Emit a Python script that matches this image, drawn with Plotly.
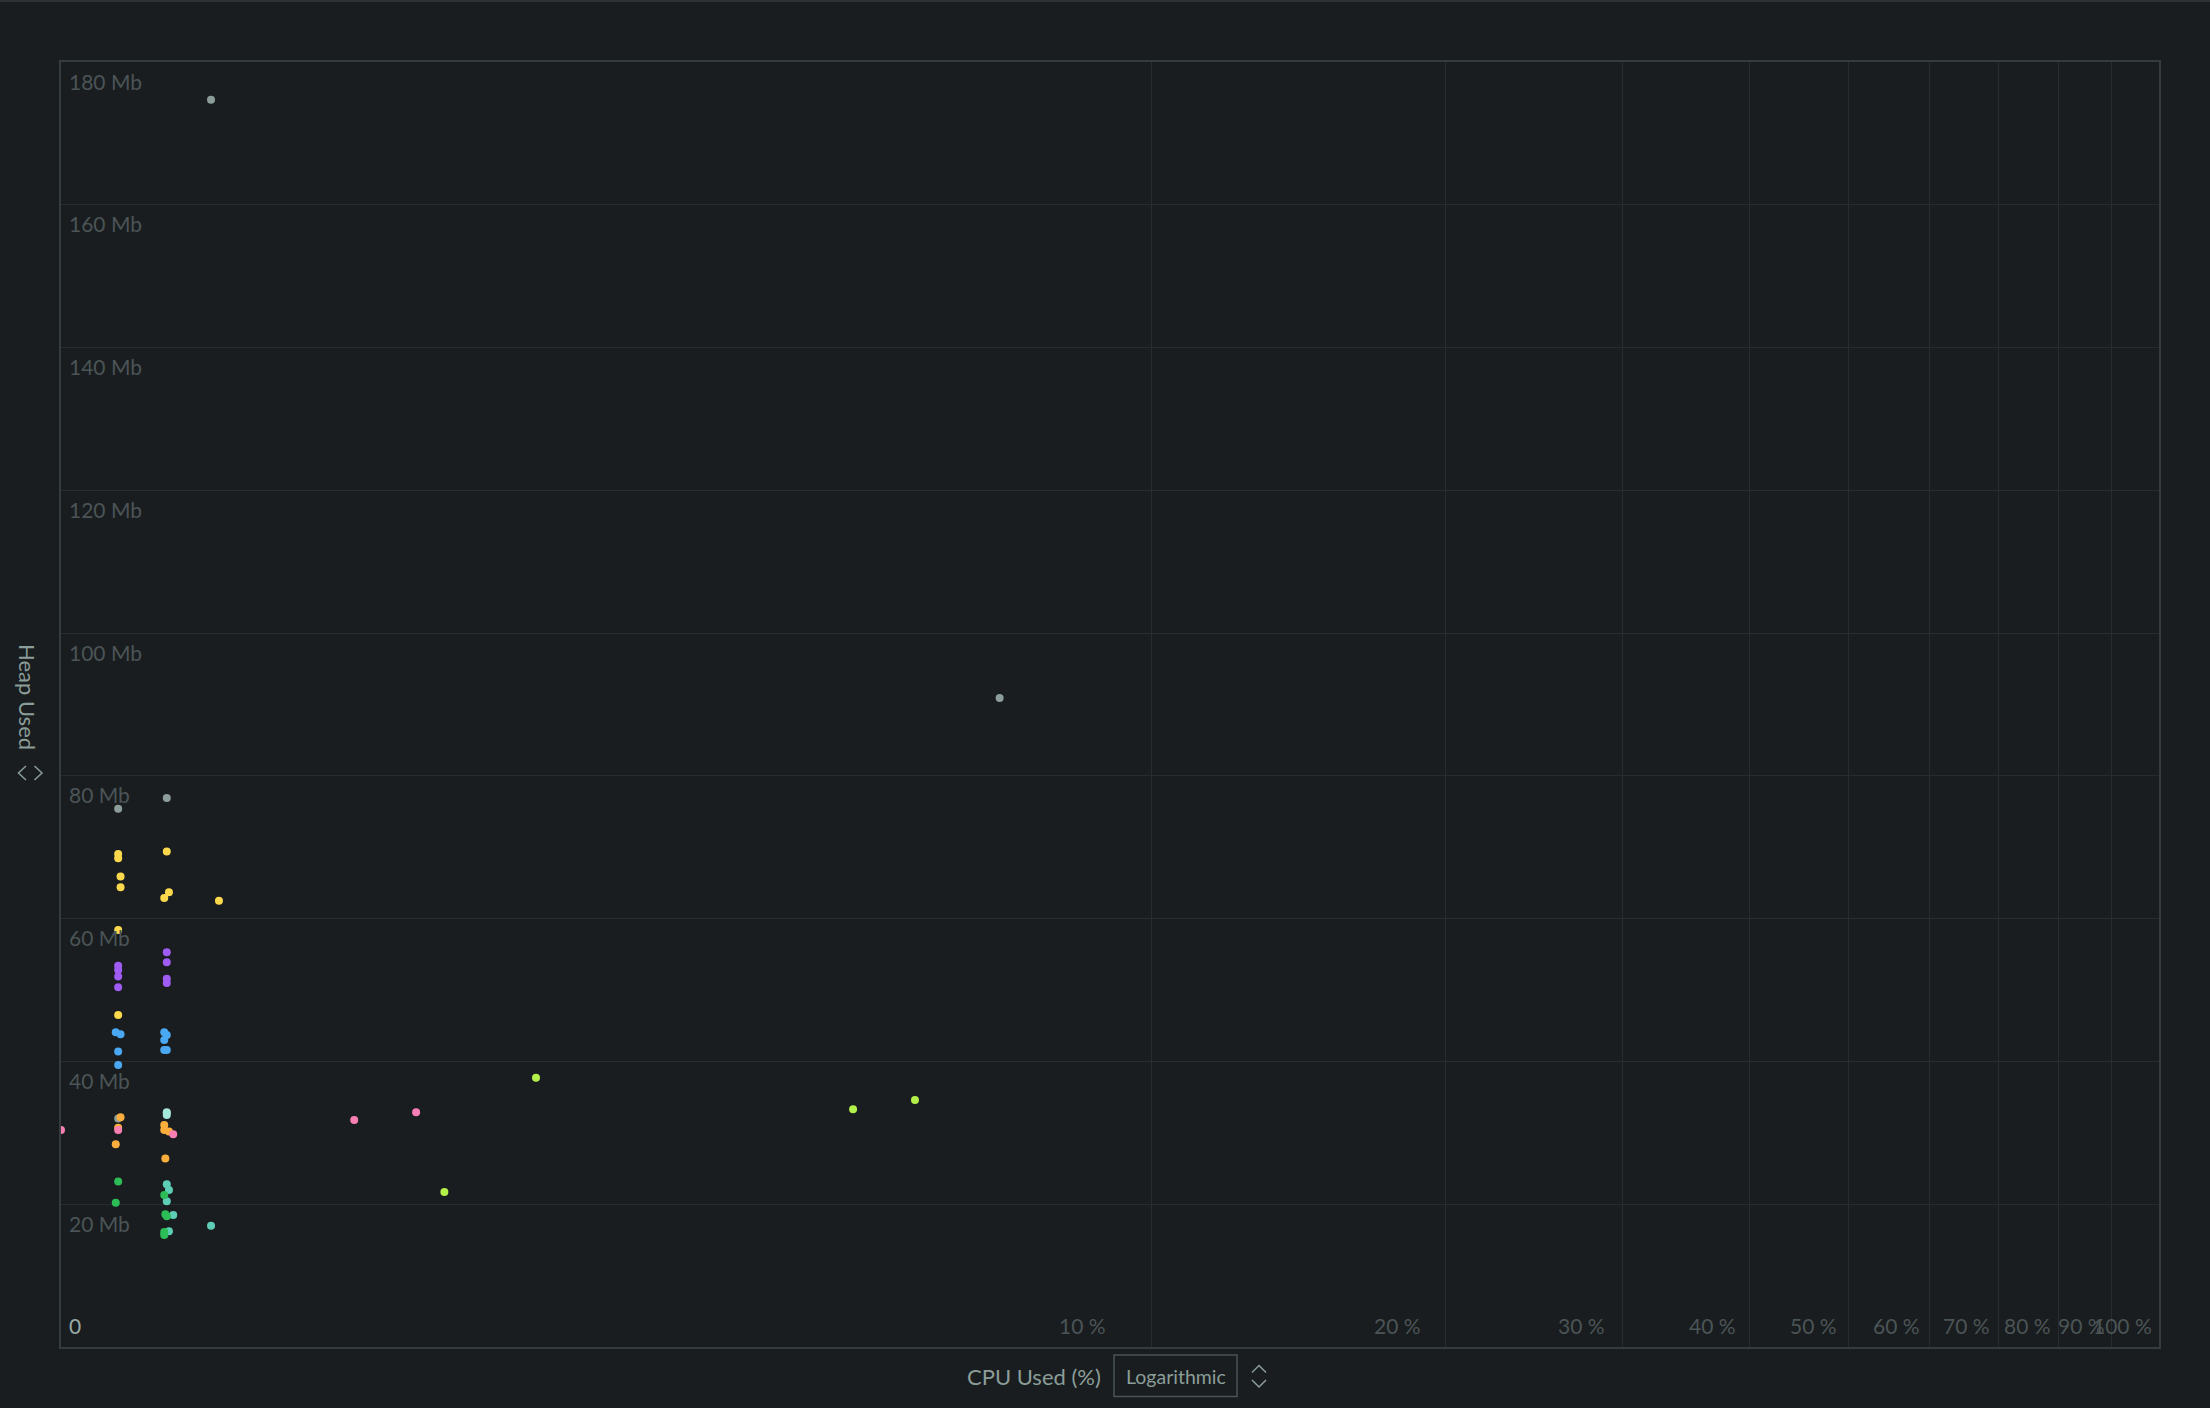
import numpy as np
import plotly.graph_objects as go

# ---------------- data ----------------
x_tick_values = [10, 20, 30, 40, 50, 60, 70, 80, 90, 100]
x_tick_labels = ["10 %", "20 %", "30 %", "40 %", "50 %", "60 %", "70 %", "80 %", "90 %", "100 %"]
y_tick_values = [20, 40, 60, 80, 100, 120, 140, 160, 180]
y_tick_labels = ["20 Mb", "40 Mb", "60 Mb", "80 Mb", "100 Mb", "120 Mb", "140 Mb", "160 Mb", "180 Mb"]

grey_cpu = [0.391, 6.883, 0.262, 0.134, 0.134, 0.262]
grey_heap = [174.7, 90.9, 76.9, 75.4, 32.0, 32.9]

yellow_cpu = [0.134, 0.134, 0.262, 0.140, 0.140, 0.268, 0.255, 0.4155, 0.134, 0.134]
yellow_heap = [69.05, 68.45, 69.4, 65.9, 64.4, 63.7, 62.9, 62.5, 58.4, 46.5]

purple_cpu = [0.134, 0.134, 0.134, 0.134, 0.262, 0.262, 0.262, 0.262]
purple_heap = [53.4, 52.8, 51.9, 50.4, 55.3, 53.9, 51.6, 51.0]

blue_cpu = [0.128, 0.140, 0.134, 0.134, 0.255, 0.262, 0.255, 0.262, 0.255]
blue_heap = [44.1, 43.8, 41.4, 39.5, 44.1, 43.7, 43.0, 41.6, 41.6]

orange_cpu = [0.140, 0.134, 0.128, 0.255, 0.255, 0.268, 0.258]
orange_heap = [32.2, 30.7, 28.4, 31.1, 30.4, 30.2, 26.4]

cyan_cpu = [0.262, 0.262]
cyan_heap = [32.85, 32.5]

pink_cpu = [0.0, 0.134, 0.280, 0.906, 1.184]
pink_heap = [30.4, 30.4, 29.8, 31.8, 32.9]

teal_cpu = [0.262, 0.268, 0.262, 0.280, 0.268, 0.391]
teal_heap = [22.8, 22.0, 20.4, 18.5, 16.2, 17.0]

green_cpu = [0.134, 0.128, 0.255, 0.258, 0.262, 0.255, 0.255]
green_heap = [23.2, 20.2, 21.3, 18.6, 18.3, 16.1, 15.7]

lime_cpu = [1.324, 1.843, 4.711, 5.544]
lime_heap = [21.7, 37.7, 33.3, 34.6]

series = [
    ("grey", grey_cpu, grey_heap),
    ("yellow", yellow_cpu, yellow_heap),
    ("purple", purple_cpu, purple_heap),
    ("blue", blue_cpu, blue_heap),
    ("orange", orange_cpu, orange_heap),
    ("cyan", cyan_cpu, cyan_heap),
    ("pink", pink_cpu, pink_heap),
    ("teal", teal_cpu, teal_heap),
    ("green", green_cpu, green_heap),
    ("lime", lime_cpu, lime_heap),
]

# ---------------- styles ----------------
colors = {
    "grey": "#8d9e9a",
    "yellow": "#fcd94c",
    "purple": "#9e5cf2",
    "blue": "#4aa8f2",
    "orange": "#fbae3c",
    "cyan": "#a3e8da",
    "pink": "#f77fb3",
    "teal": "#5dcdb5",
    "green": "#2cbd56",
    "lime": "#b4f04a",
}
BG = "#191d1f"
GRID = "#272d2f"
BORDER = "#353c3e"
DIM = "#4b5456"
TITLE = "#8b9d99"
FONT = "Lato"

W_PX, H_PX = 2210, 1408
ML, MR, MT, MB = 61, 51, 62, 61
PW = W_PX - ML - MR
PH = H_PX - MT - MB


def px(x):
    return (x - ML) / PW


def py(y):
    return (H_PX - MB - y) / PH


def tx(v):
    return np.log1p(np.asarray(v, dtype=float))


fig = go.Figure()
for name, cpu, heap in series:
    fig.add_trace(go.Scatter(
        x=tx(cpu), y=heap, mode="markers", name=name,
        marker=dict(color=colors[name], size=8, line=dict(width=0)),
        hoverinfo="skip",
    ))

xmax = float(np.log1p(100))
fig.update_xaxes(
    range=[0, xmax], tickvals=tx(x_tick_values), showticklabels=False,
    showgrid=True, gridcolor=GRID, gridwidth=1, zeroline=False,
    showline=True, linecolor=BORDER, linewidth=2, mirror=True, ticks="",
)
fig.update_yaxes(
    range=[0, 180], tickvals=y_tick_values, showticklabels=False,
    showgrid=True, gridcolor=GRID, gridwidth=1, zeroline=False,
    showline=True, linecolor=BORDER, linewidth=2, mirror=True, ticks="",
)

ann = []
# y tick labels inside plot, below gridlines
for v, lab in zip(y_tick_values, y_tick_labels):
    ann.append(dict(x=0, xref="paper", y=v, yref="y", text=lab, showarrow=False,
                    xanchor="left", yanchor="middle", xshift=6, yshift=-19,
                    font=dict(family=FONT, size=21, color=DIM)))
# x tick labels: right aligned at log(v)
for v, lab in zip(x_tick_values, x_tick_labels):
    ann.append(dict(x=float(np.log(v)), xref="x", y=py(1325.5), yref="paper", text=lab,
                    showarrow=False, xanchor="right", yanchor="middle",
                    font=dict(family=FONT, size=21, color=DIM)))
ann.append(dict(x=0, xref="x", y=py(1325.5), yref="paper", text="0", showarrow=False,
                xanchor="left", yanchor="middle", xshift=6,
                font=dict(family=FONT, size=21, color="#9aaba7")))
# axis titles
ann.append(dict(x=px(28), xref="paper", y=py(697), yref="paper", text="Heap Used",
                showarrow=False, textangle=90, xanchor="center", yanchor="middle",
                font=dict(family=FONT, size=22, color=TITLE)))
ann.append(dict(x=px(1034), xref="paper", y=py(1376), yref="paper", text="CPU Used (%)",
                showarrow=False, xanchor="center", yanchor="middle",
                font=dict(family=FONT, size=22, color=TITLE)))
ann.append(dict(x=px(1175.5), xref="paper", y=py(1376), yref="paper", text="Logarithmic",
                showarrow=False, xanchor="center", yanchor="middle",
                font=dict(family=FONT, size=19.5, color=TITLE)))

shapes = []
# top page line
shapes.append(dict(type="line", xref="paper", yref="paper", x0=px(0), x1=px(W_PX),
                   y0=py(1), y1=py(1), line=dict(color="#2c3234", width=2)))
# Logarithmic button box
shapes.append(dict(type="rect", xref="paper", yref="paper", x0=px(1114), x1=px(1237),
                   y0=py(1396.5), y1=py(1355), line=dict(color="#4a5456", width=1.5)))


def chevron(pts):
    d = "M " + " L ".join(f"{px(a)},{py(b)}" for a, b in pts)
    return dict(type="path", xref="paper", yref="paper", path=d,
                line=dict(color=TITLE, width=1.5))


shapes.append(chevron([(1252, 1372.5), (1259, 1365.5), (1266, 1372.5)]))
shapes.append(chevron([(1252, 1380), (1259, 1387), (1266, 1380)]))
shapes.append(chevron([(26, 766), (18.5, 773), (26, 780)]))
shapes.append(chevron([(34.5, 766), (42, 773), (34.5, 780)]))

fig.update_layout(
    width=W_PX, height=H_PX,
    margin=dict(l=ML, r=MR, t=MT, b=MB, pad=0),
    paper_bgcolor=BG, plot_bgcolor=BG,
    showlegend=False,
    annotations=ann, shapes=shapes,
    font=dict(family=FONT, color=TITLE),
)

fig.write_html("out.html", config={"displayModeBar": False})
